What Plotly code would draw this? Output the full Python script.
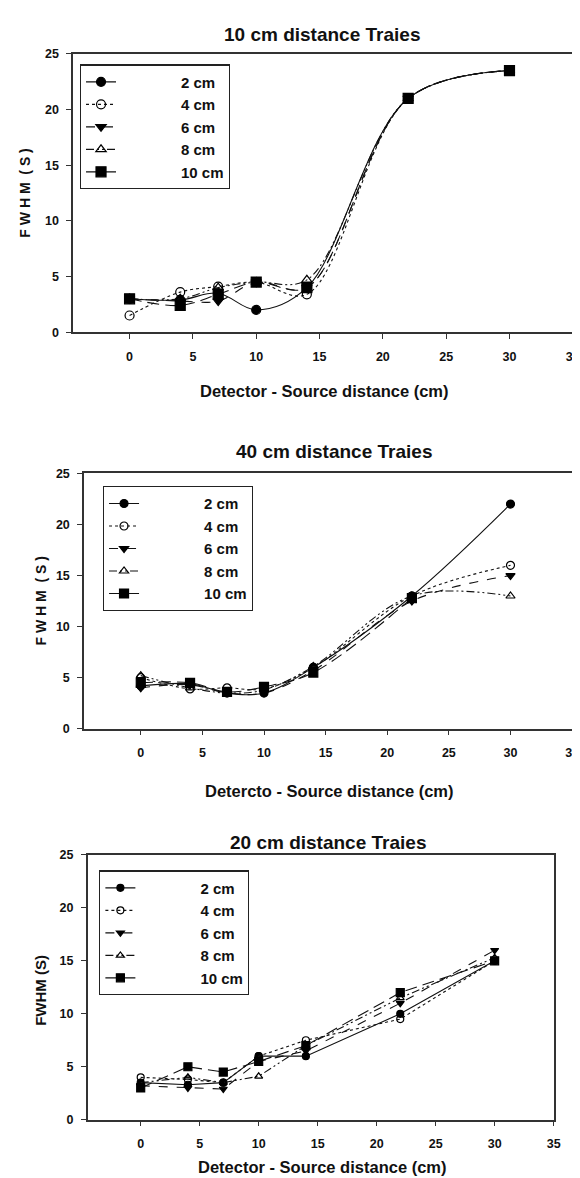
import plotly.graph_objects as go

W, H = 580, 1178

# ---------------- data ----------------
x_pos = [0, 4, 7, 10, 14, 22, 30]
series_names = ["2 cm", "4 cm", "6 cm", "8 cm", "10 cm"]
x_ticks = [0, 5, 10, 15, 20, 25, 30, 35]
y_ticks = [0, 5, 10, 15, 20, 25]

# Panel 1: 10 cm distance Traies
p1_2cm = [3.0, 2.9, 3.5, 2.0, 4.0, 21.0, 23.5]
p1_4cm = [1.5, 3.6, 4.1, 4.5, 3.4, 21.0, 23.5]
p1_6cm = [3.0, 2.8, 2.8, 4.5, 4.0, 21.0, 23.5]
p1_8cm = [3.0, 3.0, 4.0, 4.5, 4.7, 21.0, 23.5]
p1_10cm = [3.0, 2.4, 3.4, 4.5, 4.0, 21.0, 23.5]

# Panel 2: 40 cm distance Traies
p2_2cm = [4.2, 4.4, 3.5, 3.5, 6.0, 13.0, 22.0]
p2_4cm = [5.0, 3.9, 4.0, 3.9, 6.0, 13.0, 16.0]
p2_6cm = [4.0, 4.3, 3.5, 3.5, 5.7, 12.5, 15.0]
p2_8cm = [5.2, 4.0, 3.5, 3.8, 6.1, 13.0, 13.0]
p2_10cm = [4.5, 4.5, 3.6, 4.1, 5.5, 12.8, None]

# Panel 3: 20 cm distance Traies
p3_2cm = [3.5, 3.3, 3.5, 6.0, 6.0, 10.0, 15.0]
p3_4cm = [4.0, 3.8, 3.5, 6.0, 7.5, 9.5, 15.0]
p3_6cm = [3.2, 3.0, 2.9, 5.5, 6.5, 11.0, 16.0]
p3_8cm = [3.5, 4.0, 3.5, 4.1, 7.0, 11.5, 15.3]
p3_10cm = [3.0, 5.0, 4.5, 5.5, 7.0, 12.0, 15.0]

panel_titles = ["10 cm distance Traies", "40 cm distance Traies", "20 cm distance Traies"]
x_titles = ["Detector - Source distance (cm)", "Detercto - Source distance (cm)",
            "Detector - Source distance (cm)"]
y_titles = ["F W H M  ( S )", "F W H M  ( S )", "FWHM (S)"]

panels = [
    [p1_2cm, p1_4cm, p1_6cm, p1_8cm, p1_10cm],
    [p2_2cm, p2_4cm, p2_6cm, p2_8cm, p2_10cm],
    [p3_2cm, p3_4cm, p3_6cm, p3_8cm, p3_10cm],
]

# ---------------- styles / layout geometry (pixels) ----------------
FONT = "Liberation Sans Narrow, Arial Narrow, Liberation Sans, Arial, sans-serif"
dashes = ["solid", "dot", "dash", "8px,3px,2px,3px,2px,3px", "12px,6px"]
symbols = ["circle", "circle-open", "triangle-down", "triangle-up-open", "square"]
shapes_mode = ["spline", "spline", "linear"]
marker_sizes = [[9, 9, 9, 9, 10], [8, 8, 8, 8, 9], [7, 7, 7, 7, 8]]
legend_pad = "\u2002" * 8

# plot boxes: left, right, top, bottom (px)
boxes = [
    (66.0, 571.7, 39.3, 321.0),
    (77.0, 571.0, 464.0, 722.3),
    (80.7, 552.3, 850.0, 1118.0),
]
x_left_vals = [-4.45, -4.6, -4.49]
title_pos = [(318, 20), (330, 442), (324, 837)]
xtitle_pos = [(320, 381), (325, 785), (318, 1166)]
ytitle_pos = [(17, 180), (33, 593), (33, 987)]
ytitle_size = [14, 14, 15]
legend_pos = [(72.7, 50.0), (96.0, 476.7), (92.3, 865.7)]


def px(x):
    return x / W


def py(y):
    return 1 - y / H


fig = go.Figure()
annotations = []
layout_kw = {}

for i, series in enumerate(panels):
    n = "" if i == 0 else str(i + 1)
    leg = "legend" if i == 0 else f"legend{i + 1}"
    for j, ys in enumerate(series):
        fig.add_trace(go.Scatter(
            x=x_pos, y=ys, name=legend_pad + series_names[j],
            mode="lines+markers",
            line=dict(color="#111111", width=1.1, dash=dashes[j], shape=shapes_mode[i]),
            marker=dict(symbol=symbols[j], size=marker_sizes[i][j], color="#000000",
                        line=dict(color="#000000", width=1.2)),
            xaxis="x" + n, yaxis="y" + n, legend=leg,
            connectgaps=False,
        ))
    l, r, t, b = boxes[i]
    layout_kw["xaxis" + n] = dict(
        domain=[px(l), px(r)], range=[x_left_vals[i], 35], anchor="y" + n,
        tickvals=x_ticks, ticks="outside", ticklen=5, tickwidth=1.2, tickcolor="#333",
        showline=True, linecolor="#333", linewidth=1.5, mirror=True,
        showgrid=False, zeroline=False, ticklabelstandoff=7, ticklabeloverflow="allow",
        tickfont=dict(family=FONT, size=12.5, color="#111", weight="bold"),
    )
    layout_kw["yaxis" + n] = dict(
        domain=[py(b), py(t)], range=[0, 25], anchor="x" + n,
        tickvals=y_ticks, ticks="outside", ticklen=5, tickwidth=1.2, tickcolor="#333",
        showline=True, linecolor="#333", linewidth=1.5, mirror=True,
        showgrid=False, zeroline=False, ticklabelstandoff=5,
        tickfont=dict(family=FONT, size=12.5, color="#111", weight="bold"),
    )
    lx, ly = legend_pos[i]
    layout_kw[leg] = dict(
        x=px(lx), y=py(ly), xanchor="left", yanchor="top",
        bgcolor="white", bordercolor="#222", borderwidth=1.2,
        font=dict(family=FONT, size=15, color="#111", weight="bold"),
        tracegroupgap=0, itemwidth=30, traceorder="normal",
    )
    tx, ty = title_pos[i]
    annotations.append(dict(text=panel_titles[i], x=px(tx), y=py(ty), xref="paper", yref="paper",
                            showarrow=False, xanchor="center", yanchor="middle",
                            font=dict(family=FONT, size=19, color="#111", weight="bold")))
    ax, ay = xtitle_pos[i]
    annotations.append(dict(text=x_titles[i], x=px(ax), y=py(ay), xref="paper", yref="paper",
                            showarrow=False, xanchor="center", yanchor="middle",
                            font=dict(family=FONT, size=16.5, color="#111", weight="bold")))
    yx, yy = ytitle_pos[i]
    annotations.append(dict(text=y_titles[i], x=px(yx), y=py(yy), xref="paper", yref="paper",
                            showarrow=False, xanchor="center", yanchor="middle", textangle=-90,
                            font=dict(family=FONT, size=ytitle_size[i], color="#111",
                                      weight="bold")))

fig.update_layout(
    width=W, height=H,
    margin=dict(l=0, r=0, t=0, b=0),
    paper_bgcolor="white", plot_bgcolor="white",
    showlegend=True,
    annotations=annotations,
    **layout_kw,
)

fig.write_html("out.html")
